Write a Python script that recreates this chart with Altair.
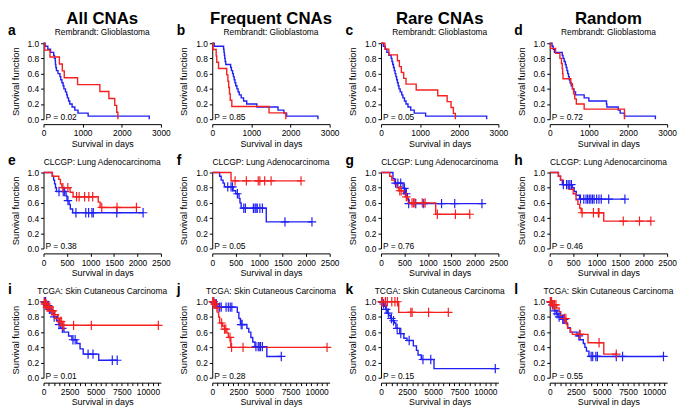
import altair as alt
import pandas as pd

RED = "#f52020"
BLUE = "#2020f5"
FONT = "Liberation Sans"
W, H = 119, 77

S25 = [0.96, 0.92, 0.88, 0.84, 0.80, 0.76, 0.72, 0.68, 0.64, 0.60, 0.56, 0.52,
       0.48, 0.44, 0.40, 0.36, 0.32, 0.28, 0.24, 0.20, 0.16, 0.12, 0.08, 0.04, 0.0]

# ---------- Row 1: Rembrandt Glioblastoma ----------
a_red_t = [30, 165, 405, 480, 530, 870, 1440, 1670, 1820, 1870, 1900]
a_red_s = [0.909, 0.818, 0.727, 0.636, 0.545, 0.455, 0.364, 0.273, 0.182, 0.091, 0.0]
a_red_c = []
a_blue_t = [40, 110, 180, 260, 280, 300, 305, 315, 330, 370, 420, 440, 470, 500, 520,
            560, 590, 610, 640, 670, 730, 800, 880, 1140, 2700]
a_blue_s = S25
a_blue_c = []

b_red_t = [20, 100, 115, 160, 370, 400, 420, 440, 460, 500, 1450, 1880]
b_red_s = [0.917, 0.833, 0.75, 0.667, 0.583, 0.5, 0.417, 0.333, 0.25, 0.167, 0.083, 0.0]
b_red_c = []
b_blue_t = [50, 290, 300, 310, 320, 330, 345, 470, 490, 520, 540, 560, 580, 600, 630,
            660, 690, 740, 800, 880, 1140, 1680, 1830, 1900, 2700]
b_blue_s = S25
b_blue_c = []

c_red_t = [100, 200, 420, 470, 520, 580, 640, 900, 1450, 1690, 1790, 1850, 1900]
c_red_s = [0.923, 0.846, 0.769, 0.692, 0.615, 0.538, 0.462, 0.385, 0.308, 0.231, 0.154, 0.077, 0.0]
c_red_c = []
c_blue_t = [60, 110, 150, 200, 260, 280, 300, 320, 340, 360, 380, 400, 420, 440, 460,
            490, 530, 560, 600, 640, 690, 760, 850, 1140, 2700]
c_blue_s = S25
c_blue_c = []

d_red_t = [20, 150, 260, 300, 320, 330, 340, 540, 580, 610, 640, 680, 880, 1910]
d_red_s = [0.933, 0.867, 0.8, 0.733, 0.667, 0.6, 0.533, 0.467, 0.4, 0.333, 0.267, 0.2, 0.133, 0.0]
d_red_c = []
d_blue_t = [60, 90, 120, 320, 340, 370, 400, 420, 440, 460, 480, 500, 520, 550, 580,
            620, 660, 880, 1000, 1450, 1460, 1750, 1800, 1910, 2700]
d_blue_s = S25
d_blue_c = []

# ---------- Row 2: CLCGP Lung Adenocarcinoma ----------
e_red_t = [190, 325, 360, 390, 565, 630, 1165, 1205]
e_red_s = [0.95, 0.91, 0.85, 0.80, 0.74, 0.68, 0.61, 0.54]
e_red_c = [413, 517, 703, 758, 875, 964, 1047, 1240, 1565, 1978]
e_blue_t = [185, 215, 235, 255, 275, 480, 500, 545, 570, 620]
e_blue_s = [0.95, 0.90, 0.85, 0.80, 0.75, 0.69, 0.63, 0.58, 0.52, 0.47]
e_blue_c = [330, 420, 450, 520, 690, 900, 960, 1030, 1060, 1560, 2120]

f_red_t = [400]
f_red_s = [0.89]
f_red_c = [486, 726, 979, 1014, 1116, 1253, 1890]
f_blue_t = [157, 190, 230, 260, 445, 500, 570, 590, 615, 1150]
f_blue_s = [0.95, 0.90, 0.86, 0.81, 0.76, 0.72, 0.66, 0.60, 0.53, 0.35]
f_blue_c = [330, 400, 430, 535, 671, 705, 876, 911, 932, 959, 1014, 1068, 1548, 2123]

g_red_t = [185, 230, 290, 340, 380, 480, 520, 560, 600, 1165]
g_red_s = [0.95, 0.90, 0.85, 0.80, 0.76, 0.72, 0.68, 0.64, 0.60, 0.45]
g_red_c = [400, 430, 540, 660, 690, 720, 880, 940, 1200, 1585, 1890]
g_blue_t = [255, 290, 470, 520, 560, 585]
g_blue_s = [0.92, 0.86, 0.79, 0.72, 0.66, 0.59]
g_blue_c = [310, 360, 420, 500, 540, 590, 740, 910, 1290, 1570, 2150]

h_red_t = [185, 230, 290, 410, 500, 560, 600, 640, 670, 1150]
h_red_s = [0.95, 0.90, 0.84, 0.78, 0.72, 0.64, 0.58, 0.53, 0.47, 0.36]
h_red_c = [690, 931, 1035, 1049, 1566, 1911, 2153]
h_blue_t = [185, 230, 270, 480, 520, 565, 635]
h_blue_s = [0.95, 0.90, 0.84, 0.80, 0.75, 0.70, 0.65]
h_blue_c = [290, 359, 393, 428, 462, 655, 725, 773, 807, 842, 876, 911, 945, 1000,
            1049, 1097, 1256, 1601]

# ---------- Row 3: TCGA Skin Cutaneous Carcinoma ----------
i_red_t = [100, 300, 700, 1000, 1330, 1500, 1800]
i_red_s = [0.97, 0.93, 0.88, 0.83, 0.78, 0.74, 0.69]
i_red_c = [60, 120, 180, 250, 330, 420, 500, 600, 800, 900, 1100, 1400, 1600, 1700,
           1850, 1950, 2880, 4580, 11000]
i_blue_t = [250, 500, 700, 1020, 1250, 1490, 1650, 1950, 2400, 2720, 3190, 3500, 3800, 5290]
i_blue_s = [0.95, 0.90, 0.85, 0.80, 0.75, 0.70, 0.65, 0.60, 0.55, 0.50, 0.45, 0.38, 0.31, 0.23]
i_blue_c = [100, 200, 340, 450, 560, 1020, 1490, 1800, 2820, 3030, 4270, 4740, 6590, 7060]

j_red_t = [150, 400, 550, 610, 710, 1000, 1170, 1400, 1540, 1780]
j_red_s = [0.97, 0.92, 0.86, 0.80, 0.72, 0.68, 0.64, 0.59, 0.53, 0.40]
j_red_c = [50, 100, 200, 300, 450, 900, 1180, 1300, 1700, 1850, 2950, 11000]
j_blue_t = [250, 550, 2400, 2550, 2700, 3320, 3500, 3700, 3880, 4090, 5230]
j_blue_s = [0.97, 0.93, 0.86, 0.78, 0.70, 0.65, 0.60, 0.53, 0.47, 0.41, 0.28]
j_blue_c = [80, 150, 300, 400, 708, 862, 1323, 1538, 1723, 1877, 2770, 2862, 4185,
            4400, 4492, 4615, 4800, 6615]

k_red_t = [1700]
k_red_s = [0.86]
k_red_c = [60, 152, 425, 608, 1034, 1338, 1580, 2860, 2980, 4560, 6450]
k_blue_t = [150, 300, 460, 600, 750, 900, 1030, 1280, 1430, 1800, 2190, 2490, 3100,
            3400, 3550, 3860, 5080]
k_blue_s = [0.97, 0.94, 0.90, 0.85, 0.82, 0.78, 0.75, 0.72, 0.65, 0.58, 0.52, 0.49,
            0.42, 0.36, 0.30, 0.24, 0.12]
k_blue_c = [80, 250, 500, 700, 1000, 1200, 1550, 1900, 2700, 4020, 4770, 10950]

l_red_t = [210, 660, 900, 1050, 1260, 1600, 1720, 2000, 2170, 3670, 5180]
l_red_s = [0.96, 0.92, 0.87, 0.82, 0.78, 0.70, 0.65, 0.60, 0.57, 0.46, 0.31]
l_red_c = [50, 100, 180, 300, 400, 450, 600, 1400, 1550, 2860, 2920, 4730, 6380]
l_blue_t = [150, 300, 450, 660, 810, 1110, 1560, 1710, 1960, 2620, 2860, 3220, 3370, 3520, 3760]
l_blue_s = [0.96, 0.93, 0.88, 0.84, 0.80, 0.77, 0.72, 0.66, 0.60, 0.55, 0.50, 0.45, 0.40, 0.35, 0.28]
l_blue_c = [100, 250, 500, 700, 900, 1250, 1350, 1420, 2800, 3970, 4120, 4420, 4570,
            6380, 6980, 10900]

letters = ["a", "b", "c", "d", "e", "f", "g", "h", "i", "j", "k", "l"]
col_titles = ["All CNAs", "Frequent CNAs", "Rare CNAs", "Random"]
row_titles = ["Rembrandt: Glioblastoma", "CLCGP: Lung Adenocarcinoma",
              "TCGA: Skin Cutaneous Carcinoma"]
p_values = ["0.02", "0.85", "0.05", "0.72", "0.38", "0.05", "0.76", "0.46",
            "0.01", "0.28", "0.15", "0.55"]
x_max = [3000, 2500, 11250]
x_ticks = [[0, 1000, 2000, 3000],
           [0, 500, 1000, 1500, 2000, 2500],
           [0, 500, 1000, 1500, 2000, 2500, 3000, 3500, 4000, 4500, 5000, 5500, 6000,
            6500, 7000, 7500, 8000, 8500, 9000, 9500, 10000, 10500, 11000]]
y_ticks = [0, 0.2, 0.4, 0.6, 0.8, 1.0]

G = globals()


def km(t, s, c, g):
    rows = [{"t": 0.0, "s": 1.0, "g": g}]
    for ti, si in zip(t, s):
        rows.append({"t": ti, "s": si, "g": g})
    end = max([t[-1]] + list(c))
    if end > t[-1]:
        rows.append({"t": end, "s": s[-1], "g": g})
    cens = []
    for ci in c:
        lvl = 1.0
        for ti, si in zip(t, s):
            if ti <= ci:
                lvl = si
        cens.append({"t": ci, "s": lvl, "g": g})
    return rows, cens


color = alt.Color("g:N", scale=alt.Scale(domain=["blue", "red"], range=[BLUE, RED]),
                  legend=None)


def label(text, x, y, size, weight="normal", align="center", baseline="alphabetic"):
    return alt.Chart(pd.DataFrame({"v": [text]})).mark_text(
        align=align, baseline=baseline, fontSize=size, fontWeight=weight, font=FONT,
        color="black").encode(x=alt.value(x), y=alt.value(y), text="v:N")


panels = []
for idx, let in enumerate(letters):
    row, col = divmod(idx, 4)
    br, bc = km(G[f"{let}_blue_t"], G[f"{let}_blue_s"], G[f"{let}_blue_c"], "blue")
    rr, rc = km(G[f"{let}_red_t"], G[f"{let}_red_s"], G[f"{let}_red_c"], "red")
    lines = pd.DataFrame(br + rr)
    cens = pd.DataFrame(bc + rc, columns=["t", "s", "g"])

    axis_kw = dict(values=x_ticks[row], format="d", title="Survival in days", offset=5,
                   labelOverlap=False, labelFlush=False)
    if row == 2:
        axis_kw["labelExpr"] = "datum.value % 2500 == 0 ? format(datum.value, 'd') : ''"
    xaxis = alt.Axis(**axis_kw)
    yaxis = alt.Axis(values=y_ticks, format=".1f", title="Survival function",
                     titlePadding=7, titleFontSize=9.5, labelOverlap=False)
    xs = alt.Scale(domain=[0, x_max[row]], nice=False)
    ys = alt.Scale(domain=[0, 1])

    layers = [alt.Chart(lines).mark_line(interpolate="step-after", strokeWidth=1.4).encode(
        x=alt.X("t:Q", scale=xs, axis=xaxis), y=alt.Y("s:Q", scale=ys, axis=yaxis),
        color=color, detail="g:N")]
    if len(cens):
        layers.append(alt.Chart(cens).mark_point(
            shape="M0,-1L0,1M-0.9,0L0.9,0", filled=False, size=90, strokeWidth=1.2,
            opacity=1).encode(x=alt.X("t:Q", scale=xs, axis=xaxis),
                              y=alt.Y("s:Q", scale=ys, axis=yaxis), color=color))
    layers.append(label("P = " + p_values[idx], 2, H + 1, 8.5, align="left"))
    layers.append(label(let, -36, -8, 14, weight="bold", align="left"))
    layers.append(label(row_titles[row], W / 2, -8, 8.5))
    if row == 0:
        layers.append(label(col_titles[col], W / 2, -32, 17, weight="bold", baseline="top"))
    panels.append(alt.layer(*layers).properties(width=W, height=H))

chart = alt.concat(*panels, columns=4, spacing={"row": 54, "column": 52}, bounds="flush").properties(
    padding=0
).configure_view(stroke=None).configure_axis(
    grid=False, domainColor="black", tickColor="black", labelColor="black", titleColor="black",
    labelFont=FONT, titleFont=FONT, labelFontSize=8.5, titleFontSize=9, titleFontWeight="normal",
    tickSize=3, labelPadding=2, titlePadding=2, domainWidth=1, labelOverlap=False
)

chart.save("out.html", embed_options={"renderer": "svg", "actions": False})
